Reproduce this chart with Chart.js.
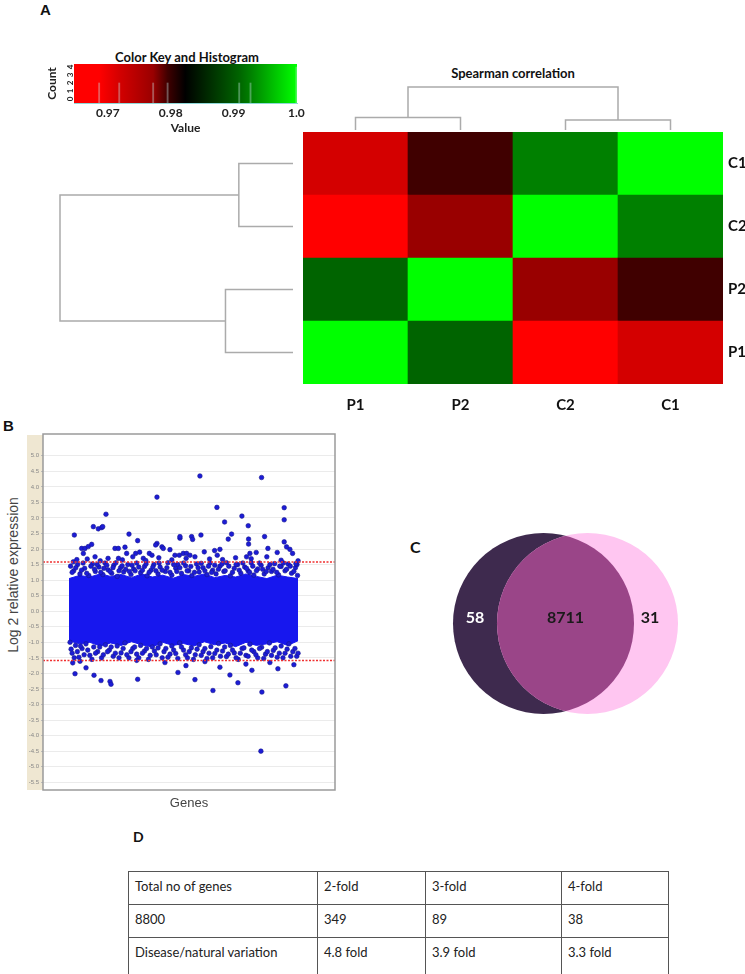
<!DOCTYPE html>
<html>
<head>
<meta charset="utf-8">
<script src="https://cdn.jsdelivr.net/npm/chart.js@4.4.1/dist/chart.umd.min.js"></script>
<style>
  body { margin: 0; width: 745px; height: 974px; position: relative; background: #fff; overflow: hidden; font-family: Lato, sans-serif; }
  canvas { position: absolute; }
  .lab { position: absolute; font-weight: bold; color: #111; white-space: nowrap; }
  #tbl { position: absolute; left: 128px; top: 871px; border-collapse: collapse; font: 13px Lato, sans-serif; color: #222; }
  #tbl td { border: 1.5px solid #555; vertical-align: top; padding: 6px 6px 0 6px; }
</style>
</head>
<body>
<div class="lab" style="left:40px;top:2px;font:bold 15px 'Liberation Sans';line-height:16px">A</div>
<div class="lab" style="left:87px;top:49px;width:200px;text-align:center;font-size:13px;line-height:16px">Color Key and Histogram</div>
<div class="lab" style="left:413px;top:65px;width:200px;text-align:center;font-size:13px;line-height:16px">Spearman correlation</div>
<div class="lab" style="left:3px;top:418px;font:bold 15px 'Liberation Sans';line-height:16px">B</div>
<div class="lab" style="left:-86px;top:566px;width:200px;height:18px;line-height:18px;text-align:center;font:14px 'Liberation Sans';font-weight:normal;color:#444;transform:rotate(-90deg)">Log 2 relative expression</div>
<div class="lab" style="left:410px;top:537px;font-size:16px;line-height:20px">C</div>
<div class="lab" style="left:133px;top:829px;font-size:14px;line-height:16px">D</div>

<canvas id="key" width="280" height="100" style="left:40px;top:40px"></canvas>
<canvas id="colDendro" width="420" height="52" style="left:303px;top:80px"></canvas>
<canvas id="rowDendro" width="250" height="252" style="left:50px;top:132px"></canvas>
<canvas id="heat" width="442" height="310" style="left:303px;top:112px"></canvas>
<canvas id="scatter" width="345" height="400" style="left:0px;top:420px"></canvas>
<canvas id="venn" width="245" height="200" style="left:443px;top:523px"></canvas>
<table id="tbl"></table>

<script>
Chart.defaults.animation = false;
Chart.defaults.responsive = false;
Chart.defaults.font.family = 'Lato';
Chart.defaults.layout.autoPadding = false;
Chart.defaults.plugins.legend.display = false;
Chart.defaults.plugins.tooltip.enabled = false;

// ---- panel A data: spearman correlation between samples ----
const samples = ['P1', 'P2', 'C2', 'C1'];      // column order
const rowOrder = ['C1', 'C2', 'P2', 'P1'];     // row order, top to bottom
const corrP1 = [1.0000, 0.9909, 0.9686, 0.9718];
const corrP2 = [0.9909, 1.0000, 0.9772, 0.9795];
const corrC2 = [0.9686, 0.9772, 1.0000, 0.9927];
const corrC1 = [0.9718, 0.9795, 0.9927, 1.0000];
const keyTicks = [0.97, 0.98, 0.99, 1.0];
const countTicks = [0, 1, 2, 3, 4];

// ---- panel B data: [gene index, log2 relative expression] ----
// the solid core of the cloud, as upper / lower edge
const blobGenes = [0, 400, 800, 1200, 1600, 2000, 2400, 2800, 3200, 3600, 4000, 4400, 4800, 5200, 5600, 6000, 6400, 6800, 7200, 7600, 8000, 8400, 8800];
const blobUpper = [1.05, 1.15, 1.1, 1.2, 1.12, 1.18, 1.08, 1.2, 1.1, 1.16, 1.06, 1.18, 1.12, 1.2, 1.08, 1.15, 1.1, 1.2, 1.12, 1.05, 1.16, 1.1, 1.05];
const blobLower = [-0.95, -1.05, -1.0, -1.12, -1.02, -1.1, -0.98, -1.08, -1.15, -1.0, -1.1, -1.04, -1.12, -0.98, -1.08, -1.02, -1.14, -1.0, -1.1, -1.05, -0.98, -1.1, -0.95];
const yTickValues = [5.0, 4.5, 4.0, 3.5, 3.0, 2.5, 2.0, 1.5, 1.0, 0.5, 0.0, -0.5, -1.0, -1.5, -2.0, -2.5, -3.0, -3.5, -4.0, -4.5, -5.0, -5.5];
const foldCut = 1.585;
const upperOutliers = [
  [204, 2.45], [1420, 3.12], [934, 2.72], [1125, 2.65], [1256, 2.69], [1294, 2.72], [2304, 2.48], [2637, 2.27],
  [3379, 3.67], [3379, 2.18], [3328, 2.13], [3571, 2.07], [4262, 2.35], [486, 2.02], [614, 2.02], [742, 2.08],
  [870, 2.15], [550, 1.86], [1766, 2.02], [1894, 2.02], [2150, 2.06], [2214, 1.86], [2560, 1.86], [2714, 1.9],
  [2854, 1.7], [3085, 1.86], [3187, 1.8], [3622, 2.02], [3878, 1.98], [4070, 1.8], [4237, 1.8], [4390, 1.86],
  [5030, 4.35], [7398, 4.3], [5683, 3.34], [8268, 3.33], [8268, 2.94], [6643, 3.06], [5978, 2.87], [6886, 2.75],
  [5069, 2.45], [6246, 2.48], [6118, 2.32], [7514, 2.4], [6899, 2.32], [6899, 2.16], [8268, 2.23], [4262, 2.4],
  [4710, 2.4], [4749, 2.31], [5197, 1.91], [5594, 1.95], [5798, 1.99], [7642, 2.02], [8000, 1.89], [8358, 2.07],
  [8486, 1.99], [8589, 1.86], [7193, 1.89], [6950, 1.86], [6822, 1.75], [4518, 1.86], [4646, 1.8], [4838, 1.75],
  [5696, 1.8], [8717, 1.53], [166, 1.59], [1900, 1.7], [2450, 1.75], [2050, 1.65], [1500, 1.7], [1000, 1.75],
  [1200, 1.62], [700, 1.68], [300, 1.66], [3450, 1.72], [3950, 1.65], [2950, 1.63], [4500, 1.7], [5400, 1.68],
  [5900, 1.66], [6400, 1.72], [7000, 1.69], [7600, 1.75], [8150, 1.64], [8800, 1.62]
];
const upperBand = [
  [60, 1.45], [180, 1.3], [330, 1.5], [420, 1.2], [600, 1.38], [760, 1.15], [900, 1.52], [1010, 1.28], [1150, 1.42],
  [1300, 1.18], [1380, 1.55], [1500, 1.33], [1640, 1.22], [1720, 1.48], [1850, 1.12], [1980, 1.4], [2100, 1.26],
  [2260, 1.5], [2380, 1.18], [2480, 1.36], [2600, 1.55], [2750, 1.24], [2900, 1.44], [3000, 1.14], [3150, 1.32],
  [3260, 1.5], [3420, 1.2], [3500, 1.42], [3700, 1.28], [3800, 1.56], [3950, 1.16], [4100, 1.38], [4180, 1.5],
  [4320, 1.22], [4480, 1.46], [4600, 1.3], [4720, 1.15], [4900, 1.52], [5000, 1.26], [5150, 1.4], [5300, 1.18],
  [5420, 1.55], [5520, 1.32], [5650, 1.2], [5800, 1.45], [5950, 1.28], [6050, 1.56], [6200, 1.14], [6350, 1.38],
  [6480, 1.5], [6600, 1.22], [6750, 1.42], [6880, 1.3], [7000, 1.56], [7100, 1.16], [7250, 1.36], [7380, 1.48],
  [7500, 1.2], [7650, 1.4], [7780, 1.28], [7900, 1.53], [8050, 1.17], [8150, 1.44], [8300, 1.3], [8420, 1.52],
  [8550, 1.22], [8700, 1.4], [8780, 1.15],
  [120, 1.25], [260, 1.4], [480, 1.32], [540, 1.55], [680, 1.22], [840, 1.45], [980, 1.35], [1080, 1.5], [1220, 1.25],
  [1340, 1.38], [1450, 1.48], [1580, 1.28], [1690, 1.4], [1800, 1.56], [1920, 1.3], [2040, 1.46], [2180, 1.35],
  [2320, 1.28], [2420, 1.48], [2540, 1.3], [2680, 1.42], [2820, 1.32], [2960, 1.52], [3080, 1.25], [3220, 1.42],
  [3340, 1.3], [3460, 1.55], [3580, 1.32], [3760, 1.4], [3880, 1.25], [4020, 1.5], [4140, 1.28], [4260, 1.4],
  [4400, 1.55], [4540, 1.3], [4680, 1.44], [4820, 1.25], [4960, 1.4], [5080, 1.54], [5220, 1.3], [5360, 1.45],
  [5480, 1.25], [5600, 1.48], [5740, 1.35], [5880, 1.52], [6000, 1.3], [6140, 1.45], [6280, 1.25], [6420, 1.5],
  [6540, 1.32], [6680, 1.55], [6820, 1.38], [6940, 1.25], [7060, 1.45], [7200, 1.3], [7320, 1.55], [7440, 1.35],
  [7580, 1.28], [7720, 1.5], [7840, 1.35], [7980, 1.25], [8100, 1.45], [8240, 1.55], [8360, 1.35], [8500, 1.45],
  [8640, 1.28], [8760, 1.5]
];
const lowerBand = [
  [40, -1.0], [120, -1.35], [250, -1.1], [380, -1.48], [500, -1.2], [650, -1.05], [800, -1.42], [950, -1.15],
  [1100, -1.3], [1250, -1.5], [1400, -1.08], [1550, -1.25], [1700, -1.45], [1850, -1.12], [2000, -1.34], [2150, -1.02],
  [2300, -1.5], [2450, -1.2], [2600, -1.38], [2750, -1.1], [2900, -1.28], [3050, -1.55], [3200, -1.15], [3350, -1.4],
  [3500, -1.05], [3650, -1.3], [3800, -1.48], [3950, -1.12], [4100, -1.36], [4250, -1.02], [4400, -1.25], [4550, -1.5],
  [4700, -1.18], [4850, -1.4], [5000, -1.08], [5150, -1.3], [5300, -1.52], [5450, -1.14], [5600, -1.36], [5750, -1.04],
  [5900, -1.28], [6050, -1.46], [6200, -1.1], [6350, -1.34], [6500, -1.55], [6650, -1.2], [6800, -1.42], [6950, -1.06],
  [7100, -1.3], [7250, -1.5], [7400, -1.16], [7550, -1.38], [7700, -1.02], [7850, -1.26], [8000, -1.48], [8150, -1.12],
  [8300, -1.35], [8450, -1.05], [8600, -1.3], [8750, -1.45],
  [80, -1.22], [200, -1.5], [320, -1.3], [440, -1.12], [580, -1.4], [720, -1.25], [880, -1.55], [1020, -1.35],
  [1180, -1.15], [1320, -1.4], [1480, -1.3], [1620, -1.15], [1780, -1.35], [1920, -1.5], [2080, -1.2], [2220, -1.4],
  [2380, -1.3], [2520, -1.15], [2680, -1.5], [2820, -1.35], [2980, -1.2], [3120, -1.42], [3280, -1.28], [3420, -1.18],
  [3580, -1.5], [3720, -1.2], [3880, -1.38], [4020, -1.25], [4180, -1.52], [4320, -1.15], [4480, -1.4], [4620, -1.3],
  [4780, -1.55], [4920, -1.22], [5080, -1.42], [5220, -1.2], [5380, -1.35], [5520, -1.5], [5680, -1.25], [5820, -1.45],
  [5980, -1.15], [6120, -1.38], [6280, -1.25], [6420, -1.5], [6580, -1.35], [6720, -1.18], [6880, -1.45], [7020, -1.25],
  [7180, -1.4], [7320, -1.2], [7480, -1.52], [7620, -1.3], [7780, -1.42], [7920, -1.18], [8080, -1.35], [8220, -1.5],
  [8380, -1.22], [8520, -1.45], [8680, -1.2], [8800, -1.35]
];
const lowerOutliers = [
  [230, -2.01], [422, -1.61], [653, -1.82], [960, -2.06], [1229, -2.23], [1574, -2.26], [1613, -2.35], [142, -1.66],
  [2600, -1.58], [2638, -2.19], [3686, -1.65], [4186, -1.97], [4493, -1.75], [4838, -2.2], [5222, -1.62], [5530, -2.55],
  [5798, -1.8], [6182, -2.05], [6490, -2.3], [6797, -1.7], [7027, -1.9], [7411, -2.6], [7718, -1.65], [8026, -1.85],
  [8333, -2.4], [8640, -1.72], [7373, -4.5]
];

// ---- panel C data ----
const vennCounts = [58, 8711, 31];   // only first set, both, only second set

// ---- panel D data ----
const tableHeader = ['Total no of genes', '2-fold', '3-fold', '4-fold'];
const tableCounts = ['8800', '349', '89', '38'];
const tableRatio = ['Disease/natural variation', '4.8 fold', '3.9 fold', '3.3 fold'];

// ---- colour scale (red - black - green) ----
const corr = { P1: corrP1, P2: corrP2, C2: corrC2, C1: corrC1 };
const colourStops = [
  [0.9646, [255, 0, 0]], [0.9686, [255, 0, 0]], [0.9718, [212, 0, 0]], [0.9772, [153, 0, 0]],
  [0.9795, [64, 0, 0]], [0.9823, [0, 0, 0]], [0.9909, [0, 100, 0]], [0.9927, [0, 128, 0]], [1.0, [0, 255, 0]]
];
function corrColour(v) {
  for (let i = 1; i < colourStops.length; i++) {
    const [v0, c0] = colourStops[i - 1];
    const [v1, c1] = colourStops[i];
    if (v <= v1) {
      const t = Math.max(0, (v - v0) / (v1 - v0));
      return 'rgb(' + c0.map((c, k) => Math.round(c + (c1[k] - c) * t)).join(',') + ')';
    }
  }
  return 'rgb(0,255,0)';
}

// ---- colour key with histogram ----
const histCounts = {};
samples.forEach(s => corr[s].forEach(v => { histCounts[v] = (histCounts[v] || 0) + 1; }));
const histData = Object.keys(histCounts).map(k => ({ x: +k, y: histCounts[k] }));

const gradientPlugin = {
  id: 'keyGradient',
  beforeDatasetsDraw(chart) {
    const { ctx, chartArea: a, scales: { x } } = chart;
    const g = ctx.createLinearGradient(a.left, 0, a.right, 0);
    colourStops.forEach(([v]) => {
      const t = (x.getPixelForValue(v) - a.left) / (a.right - a.left);
      g.addColorStop(Math.min(1, Math.max(0, t)), corrColour(v));
    });
    ctx.save();
    ctx.fillStyle = g;
    ctx.fillRect(a.left, a.top, a.right - a.left, a.bottom - a.top);
    ctx.restore();
  }
};

new Chart(document.getElementById('key'), {
  type: 'bar',
  data: { datasets: [{ data: histData, backgroundColor: 'rgba(200,230,230,0.38)', barThickness: 1.2, base: -0.5 }] },
  options: {
    layout: { padding: { left: 0, top: 24, right: 23, bottom: 0 } },
    scales: {
      x: {
        type: 'linear', min: 0.9646, max: 1.0001, offset: false,
        afterBuildTicks: s => { s.ticks = keyTicks.map(v => ({ value: v })); },
        ticks: { callback: v => v === 1 ? '1.0' : v.toFixed(2), font: { size: 12, weight: 'bold' }, color: '#222', padding: 3, maxRotation: 0 },
        grid: { display: false, drawTicks: false, offset: false },
        border: { color: '#8fd8d8', width: 1 },
        title: { display: true, text: 'Value', font: { size: 12, weight: 'bold' }, color: '#222', padding: { top: 0, bottom: 5 } },
        afterFit: s => { s.height = 37; }
      },
      y: {
        min: -0.5, max: 4.375,
        afterBuildTicks: s => { s.ticks = countTicks.map(v => ({ value: v })); },
        ticks: { font: { size: 8, weight: 'bold' }, color: '#222', minRotation: 90, maxRotation: 90, padding: 1, crossAlign: 'center' },
        grid: { display: false, drawTicks: false },
        border: { display: false },
        title: { display: true, text: 'Count', font: { size: 12, weight: 'bold' }, color: '#222', padding: { top: 5, bottom: 0 } },
        afterFit: s => { s.width = 34; }
      }
    }
  },
  plugins: [gradientPlugin]
});

// ---- heatmap ----
const rowsBottomUp = rowOrder.slice().reverse();
new Chart(document.getElementById('heat'), {
  type: 'bar',
  data: {
    labels: samples,
    datasets: rowsBottomUp.map(r => ({
      label: r,
      data: samples.map(() => 1),
      backgroundColor: samples.map((c, j) => corrColour(corr[r][j])),
      categoryPercentage: 1, barPercentage: 1, borderWidth: 0
    }))
  },
  options: {
    layout: { padding: { top: 20, left: 0, right: 0, bottom: 0 } },
    scales: {
      x: {
        stacked: true, grid: { display: false, drawTicks: false }, border: { display: false },
        ticks: { font: { size: 15, weight: 'bold' }, color: '#111', padding: 12 },
        afterFit: s => { s.height = 38; }
      },
      y: {
        stacked: true, position: 'right', min: 0, max: 4,
        afterBuildTicks: s => { s.ticks = rowsBottomUp.map((r, i) => ({ value: i + 0.5 })); },
        ticks: { callback: v => rowsBottomUp[Math.floor(v)], font: { size: 15, weight: 'bold' }, color: '#111', padding: 5 },
        grid: { display: false, drawTicks: false }, border: { display: false },
        afterFit: s => { s.width = 22; }
      }
    }
  }
});

// ---- dendrograms (complete linkage on 1 - rho) ----
const dist = (a, b) => 1 - corr[a][samples.indexOf(b)];
const hP = dist('P1', 'P2');
const hC = dist('C1', 'C2');
const hR = Math.max(dist('P1', 'C1'), dist('P1', 'C2'), dist('P2', 'C1'), dist('P2', 'C2'));
const treeLine = pts => ({ data: pts, showLine: true, pointRadius: 0, borderColor: '#ababab', borderWidth: 1.5, clip: false });

const colPos = s => samples.indexOf(s) + 0.5;
const colMidP = (colPos('P1') + colPos('P2')) / 2;
const colMidC = (colPos('C1') + colPos('C2')) / 2;
const colK = 43 / hR;
new Chart(document.getElementById('colDendro'), {
  type: 'scatter',
  data: {
    datasets: [
      treeLine([{ x: colPos('P1'), y: 0 }, { x: colPos('P1'), y: hP }, { x: colPos('P2'), y: hP }, { x: colPos('P2'), y: 0 }]),
      treeLine([{ x: colPos('C2'), y: 0 }, { x: colPos('C2'), y: hC }, { x: colPos('C1'), y: hC }, { x: colPos('C1'), y: 0 }]),
      treeLine([{ x: colMidP, y: hP }, { x: colMidP, y: hR }, { x: colMidC, y: hR }, { x: colMidC, y: hC }])
    ]
  },
  options: {
    layout: { padding: 0 },
    scales: {
      x: { display: false, min: 0, max: 4 },
      y: { display: false, min: -2 / colK, max: hR + 7 / colK }
    }
  }
});

const rowPos = s => 3.5 - rowOrder.indexOf(s);
const rowMidP = (rowPos('P1') + rowPos('P2')) / 2;
const rowMidC = (rowPos('C1') + rowPos('C2')) / 2;
const rowK = 233 / hR;
new Chart(document.getElementById('rowDendro'), {
  type: 'scatter',
  data: {
    datasets: [
      treeLine([{ x: 0, y: rowPos('C1') }, { x: hC, y: rowPos('C1') }, { x: hC, y: rowPos('C2') }, { x: 0, y: rowPos('C2') }]),
      treeLine([{ x: 0, y: rowPos('P2') }, { x: hP, y: rowPos('P2') }, { x: hP, y: rowPos('P1') }, { x: 0, y: rowPos('P1') }]),
      treeLine([{ x: hC, y: rowMidC }, { x: hR, y: rowMidC }, { x: hR, y: rowMidP }, { x: hP, y: rowMidP }])
    ]
  },
  options: {
    layout: { padding: 0 },
    scales: {
      x: { display: false, reverse: true, min: -7 / rowK, max: hR + 10 / rowK },
      y: { display: false, min: 0, max: 4 }
    }
  }
});

// ---- panel B scatter ----
const blobBlue = '#1717ee';
const framePlugin = {
  id: 'frame',
  beforeDraw(chart) {
    const { ctx, chartArea: a } = chart;
    ctx.save();
    ctx.fillStyle = '#efe7d2';
    ctx.fillRect(a.left - 16, a.top + 1, 16, a.bottom - a.top - 1);
    ctx.restore();
  },
  afterDraw(chart) {
    const { ctx, chartArea: a } = chart;
    ctx.save();
    ctx.strokeStyle = '#9a9a9a';
    ctx.lineWidth = 1.5;
    ctx.strokeRect(a.left, a.top, a.right - a.left, a.bottom - a.top);
    ctx.restore();
  }
};
const xMin = -1000, xMax = 10220;
const toXY = arr => arr.map(([g, v]) => ({ x: g, y: v }));
const allPoints = [].concat(upperBand, lowerBand, upperOutliers, lowerOutliers);
new Chart(document.getElementById('scatter'), {
  type: 'scatter',
  data: {
    datasets: [
      { type: 'line', data: blobGenes.map((g, i) => ({ x: g, y: blobUpper[i] })), borderColor: blobBlue, borderWidth: 1, pointRadius: 0, fill: false, order: 3 },
      { type: 'line', data: blobGenes.map((g, i) => ({ x: g, y: blobLower[i] })), borderColor: blobBlue, borderWidth: 1, pointRadius: 0, fill: '-1', backgroundColor: blobBlue, order: 3 },
      { data: toXY(allPoints), pointRadius: 2.3, backgroundColor: '#1c1cd6', borderColor: '#15158e', borderWidth: 0.6, order: 2 },
      { type: 'line', data: [{ x: xMin, y: foldCut }, { x: xMax, y: foldCut }], borderColor: '#f03030', borderDash: [2, 1.5], borderWidth: 1.6, pointRadius: 0, order: 1 },
      { type: 'line', data: [{ x: xMin, y: -foldCut }, { x: xMax, y: -foldCut }], borderColor: '#f03030', borderDash: [2, 1.5], borderWidth: 1.6, pointRadius: 0, order: 1 }
    ]
  },
  options: {
    layout: { padding: { top: 14, right: 10, left: 0, bottom: 0 } },
    scales: {
      x: {
        type: 'linear', min: xMin, max: xMax,
        ticks: { display: false }, grid: { display: false, drawTicks: false }, border: { display: false },
        title: { display: true, text: 'Genes', font: { size: 13, family: 'Liberation Sans' }, color: '#444', padding: { top: 0, bottom: 9 } },
        afterFit: s => { s.height = 30; }
      },
      y: {
        min: -5.75, max: 5.7,
        afterBuildTicks: s => { s.ticks = yTickValues.map(v => ({ value: v })); },
        ticks: { font: { size: 6, family: 'Liberation Sans' }, color: '#888', padding: 2, callback: v => v.toFixed(1) },
        grid: { color: '#ebebeb', tickColor: '#bbb', tickLength: 2 },
        border: { display: false },
        afterFit: s => { s.width = 43; }
      }
    }
  },
  plugins: [framePlugin]
});

// ---- panel C venn ----
const vennLayout = { cxA: 100.5, cxB: 144.5, cy: 99.5, r: 90.5 };
const vennPlugin = {
  id: 'vennOverlap',
  afterDatasetsDraw(chart) {
    const { ctx } = chart;
    const pb = chart.getDatasetMeta(0).data[0];
    const pa = chart.getDatasetMeta(1).data[0];
    const r = vennLayout.r;
    ctx.save();
    ctx.beginPath();
    ctx.arc(pa.x, pa.y, r, 0, Math.PI * 2);
    ctx.clip();
    ctx.beginPath();
    ctx.arc(pb.x, pb.y, r, 0, Math.PI * 2);
    ctx.fillStyle = '#9a4588';
    ctx.fill();
    ctx.restore();
    const xs = [(pa.x - r + pb.x - r) / 2, (pb.x - r + pa.x + r) / 2, (pa.x + r + pb.x + r) / 2 - 6];
    const colours = ['#ffffff', '#1a1a1a', '#1a1a1a'];
    ctx.save();
    ctx.font = 'bold 16px Lato';
    ctx.textAlign = 'center';
    ctx.textBaseline = 'middle';
    vennCounts.forEach((n, i) => { ctx.fillStyle = colours[i]; ctx.fillText(String(n), xs[i], pa.y - 6); });
    ctx.restore();
  }
};
new Chart(document.getElementById('venn'), {
  type: 'bubble',
  data: {
    datasets: [
      { data: [{ x: vennLayout.cxB, y: vennLayout.cy, r: vennLayout.r }], backgroundColor: '#ffc6f1', borderWidth: 0, clip: false },
      { data: [{ x: vennLayout.cxA, y: vennLayout.cy, r: vennLayout.r }], backgroundColor: '#3e2a4e', borderWidth: 0, clip: false }
    ]
  },
  options: {
    layout: { padding: 0 },
    scales: { x: { display: false, min: 0, max: 245 }, y: { display: false, min: 0, max: 200 } }
  },
  plugins: [vennPlugin]
});

// ---- panel D table ----
const colWidths = [188, 107, 135, 106];
const rowHeights = [32, 32, 37];
const tbl = document.getElementById('tbl');
[tableHeader, tableCounts, tableRatio].forEach((row, i) => {
  const tr = document.createElement('tr');
  row.forEach((txt, j) => {
    const td = document.createElement('td');
    td.textContent = txt;
    td.style.width = (colWidths[j] - 12) + 'px';
    td.style.height = (rowHeights[i] - 6) + 'px';
    td.style.boxSizing = 'content-box';
    tr.appendChild(td);
  });
  tbl.appendChild(tr);
});
</script>
</body>
</html>
